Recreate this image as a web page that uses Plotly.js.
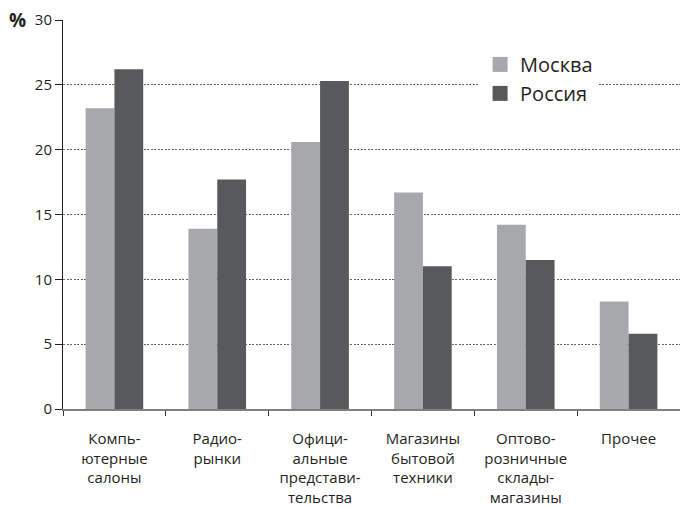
<!DOCTYPE html>
<html>
<head>
<meta charset="utf-8">
<script src="https://cdn.plot.ly/plotly-3.0.1.min.js"></script>
<style>
  html, body { margin: 0; padding: 0; background: #fff; }
  #chart { width: 680px; height: 507px; }
</style>
</head>
<body>
<div id="chart"></div>
<script>
// Where buyers purchase computer equipment, % of respondents
const categories = [
  'Компь-<br>ютерные<br>салоны',
  'Радио-<br>рынки',
  'Офици-<br>альные<br>представи-<br>тельства',
  'Магазины<br>бытовой<br>техники',
  'Оптово-<br>розничные<br>склады-<br>магазины',
  'Прочее'
];
const seriesNames = ['Москва', 'Россия'];
const moscow = [23.2, 13.9, 20.6, 16.7, 14.2, 8.3];
const russia = [26.2, 17.7, 25.3, 11.0, 11.5, 5.8];
const yTicks = [0, 5, 10, 15, 20, 25, 30];

const FONT = '"Open Sans", "DejaVu Sans", sans-serif';
const TEXT = '#231f20';
const COLORS = ['#a7a8ab', '#58595b'];

const bars = [moscow, russia].map((vals, i) => ({
  type: 'bar', name: seriesNames[i], x: categories, y: vals,
  marker: { color: COLORS[i], line: { width: 0 } },
  showlegend: false, hoverinfo: 'y'
}));

// legend entries with larger square swatches
const keys = seriesNames.map((name, i) => ({
  type: 'scatter', mode: 'markers', name: name,
  x: [null], y: [null],
  marker: { symbol: 'square', size: 15, color: COLORS[i] },
  showlegend: true, hoverinfo: 'skip'
}));

const layout = {
  width: 680, height: 507,
  margin: { l: 63, r: 0, t: 20, b: 98 },
  paper_bgcolor: '#fff', plot_bgcolor: '#fff',
  font: { family: FONT, color: TEXT, size: 15 },
  barmode: 'group', bargap: 0.44, bargroupgap: 0,
  showlegend: true,
  legend: {
    x: 0.676, xanchor: 'left', y: 0.936, yanchor: 'top',
    bgcolor: '#fff', borderwidth: 0,
    font: { family: FONT, size: 20, color: TEXT },
    tracegroupgap: 0, itemsizing: 'trace'
  },
  xaxis: {
    type: 'category',
    tickson: 'boundaries', ticks: 'outside', ticklen: 5, tickwidth: 1, tickcolor: '#333',
    showline: true, linecolor: '#808080', linewidth: 2,
    showgrid: false, zeroline: false,
    tickfont: { family: FONT, size: 15, color: TEXT },
    ticklabelstandoff: 15
  },
  yaxis: {
    range: [0, 30], tickvals: yTicks, ticktext: yTicks.map(String),
    ticks: 'outside', ticklen: 7, tickwidth: 1, tickcolor: '#231f20',
    showline: true, linecolor: '#231f20', linewidth: 1,
    showgrid: true, gridcolor: '#666', gridwidth: 1, griddash: '2px,1.5px',
    zeroline: false,
    tickfont: { family: FONT, size: 15, color: TEXT },
    ticklabelstandoff: 0
  },
  annotations: [
    { text: '<b>%</b>', xref: 'paper', yref: 'paper', x: -0.074, y: 1,
      xanchor: 'center', yanchor: 'middle', showarrow: false,
      font: { family: FONT, size: 19, color: TEXT } }
  ]
};

Plotly.newPlot('chart', bars.concat(keys), layout, { displayModeBar: false, staticPlot: true });
</script>
</body>
</html>
